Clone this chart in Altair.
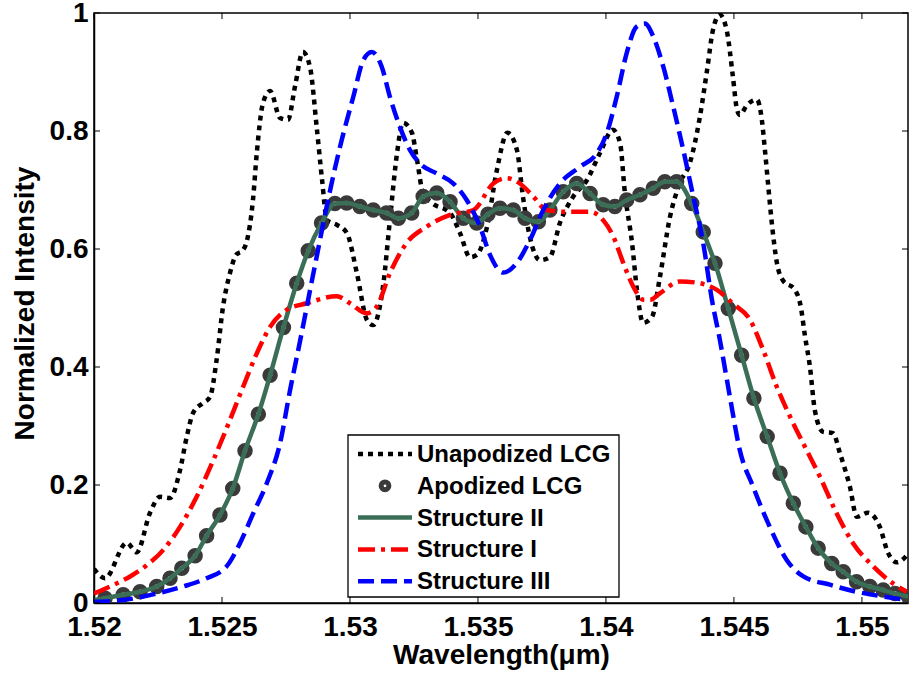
import altair as alt
import pandas as pd

# ---------------- data ----------------
unapod_wl = [
    1.52000, 1.52043, 1.52128, 1.52167, 1.52219, 1.52258, 1.52297, 1.52336, 1.52362, 1.52387,
    1.52426, 1.52453, 1.52479, 1.52504, 1.52531, 1.52555, 1.52582, 1.52598, 1.52621, 1.52636,
    1.52660, 1.52688, 1.52727, 1.52758, 1.52785, 1.52816, 1.52844, 1.52871, 1.52891, 1.52910,
    1.52949, 1.52988, 1.53027, 1.53066, 1.53090, 1.53129, 1.53156, 1.53184, 1.53207, 1.53242,
    1.53262, 1.53285, 1.53320, 1.53391, 1.53430, 1.53469, 1.53496, 1.53535, 1.53574, 1.53615,
    1.53652, 1.53676, 1.53703, 1.53742, 1.53781, 1.53820, 1.53871, 1.53926, 1.53977, 1.54027,
    1.54055, 1.54074, 1.54102, 1.54121, 1.54145, 1.54180, 1.54211, 1.54250, 1.54289, 1.54328,
    1.54367, 1.54395, 1.54418, 1.54445, 1.54473, 1.54496, 1.54512, 1.54523, 1.54551, 1.54590,
    1.54609, 1.54621, 1.54633, 1.54648, 1.54668, 1.54691, 1.54738, 1.54762, 1.54777, 1.54797,
    1.54816, 1.54848, 1.54887, 1.54914, 1.54953, 1.54980, 1.55023, 1.55070, 1.55102, 1.55137,
    1.55176]
unapod_int = [
    0.058, 0.042, 0.102, 0.086, 0.153, 0.180, 0.178, 0.225, 0.281, 0.322,
    0.339, 0.349, 0.412, 0.502, 0.559, 0.590, 0.598, 0.615, 0.683, 0.763,
    0.847, 0.868, 0.822, 0.819, 0.875, 0.934, 0.908, 0.802, 0.717, 0.649,
    0.641, 0.627, 0.559, 0.480, 0.471, 0.536, 0.649, 0.763, 0.814, 0.797,
    0.751, 0.695, 0.678, 0.661, 0.627, 0.586, 0.590, 0.637, 0.734, 0.797,
    0.768, 0.688, 0.620, 0.581, 0.586, 0.644, 0.688, 0.717, 0.763, 0.802,
    0.780, 0.695, 0.610, 0.531, 0.475, 0.485, 0.553, 0.654, 0.712, 0.746,
    0.824, 0.903, 0.971, 0.997, 0.968, 0.892, 0.836, 0.827, 0.844, 0.853,
    0.819, 0.768, 0.712, 0.644, 0.576, 0.547, 0.531, 0.500, 0.454, 0.400,
    0.327, 0.290, 0.288, 0.254, 0.197, 0.146, 0.153, 0.129, 0.085, 0.069,
    0.081]

apod_wl = [
    1.52043, 1.52114, 1.52180, 1.52245, 1.52297, 1.52343, 1.52395, 1.52440, 1.52492, 1.52542,
    1.52590, 1.52642, 1.52688, 1.52740, 1.52792, 1.52837, 1.52889, 1.52941, 1.52987, 1.53039,
    1.53091, 1.53143, 1.53189, 1.53241, 1.53286, 1.53339, 1.53391, 1.53443, 1.53495, 1.53539,
    1.53586, 1.53638, 1.53684, 1.53736, 1.53781, 1.53833, 1.53886, 1.53938, 1.53989, 1.54035,
    1.54081, 1.54133, 1.54185, 1.54230, 1.54276, 1.54335, 1.54380, 1.54426, 1.54478, 1.54530,
    1.54578, 1.54630, 1.54680, 1.54732, 1.54781, 1.54829, 1.54882, 1.54927, 1.54979, 1.55031,
    1.55083, 1.55129, 1.55181]
apod_int = [
    0.008, 0.014, 0.019, 0.028, 0.042, 0.059, 0.080, 0.114, 0.149, 0.194,
    0.258, 0.320, 0.386, 0.467, 0.542, 0.597, 0.644, 0.677, 0.678, 0.672,
    0.666, 0.661, 0.652, 0.661, 0.689, 0.695, 0.680, 0.652, 0.644, 0.659,
    0.669, 0.666, 0.652, 0.646, 0.666, 0.697, 0.711, 0.694, 0.675, 0.672,
    0.683, 0.692, 0.703, 0.714, 0.714, 0.677, 0.629, 0.576, 0.499, 0.420,
    0.347, 0.282, 0.220, 0.169, 0.129, 0.093, 0.067, 0.053, 0.036, 0.028,
    0.022, 0.016, 0.011]

struct2_wl = [1.52000] + apod_wl
struct2_int = [0.005] + apod_int

struct1_wl = [
    1.52000, 1.52063, 1.52141, 1.52206, 1.52271, 1.52336, 1.52401, 1.52466, 1.52531, 1.52583,
    1.52636, 1.52688, 1.52753, 1.52831, 1.52948, 1.53000, 1.53065, 1.53104, 1.53156, 1.53221,
    1.53300, 1.53391, 1.53482, 1.53560, 1.53612, 1.53664, 1.53716, 1.53768, 1.53846, 1.53938,
    1.53989, 1.54029, 1.54068, 1.54107, 1.54146, 1.54172, 1.54211, 1.54289, 1.54354, 1.54432,
    1.54497, 1.54563, 1.54614, 1.54667, 1.54719, 1.54784, 1.54836, 1.54901, 1.54966, 1.55044,
    1.55122, 1.55175]
struct1_int = [
    0.016, 0.028, 0.045, 0.064, 0.090, 0.129, 0.180, 0.242, 0.310, 0.367,
    0.423, 0.468, 0.497, 0.508, 0.520, 0.508, 0.491, 0.502, 0.559, 0.610,
    0.638, 0.658, 0.666, 0.711, 0.720, 0.711, 0.689, 0.666, 0.663, 0.663,
    0.649, 0.621, 0.576, 0.536, 0.514, 0.514, 0.525, 0.545, 0.543, 0.531,
    0.507, 0.480, 0.429, 0.367, 0.316, 0.259, 0.214, 0.152, 0.101, 0.062,
    0.033, 0.019]

struct3_wl = [
    1.52000, 1.52114, 1.52245, 1.52349, 1.52440, 1.52518, 1.52570, 1.52622, 1.52675, 1.52727,
    1.52766, 1.52805, 1.52848, 1.52875, 1.52909, 1.52961, 1.53013, 1.53052, 1.53085, 1.53124,
    1.53156, 1.53195, 1.53234, 1.53273, 1.53339, 1.53404, 1.53456, 1.53508, 1.53547, 1.53599,
    1.53651, 1.53703, 1.53755, 1.53820, 1.53898, 1.53964, 1.54003, 1.54042, 1.54081, 1.54120,
    1.54152, 1.54185, 1.54224, 1.54263, 1.54302, 1.54341, 1.54380, 1.54414, 1.54445, 1.54484,
    1.54523, 1.54575, 1.54640, 1.54706, 1.54771, 1.54875, 1.54979, 1.55083, 1.55175]
struct3_int = [
    0.002, 0.005, 0.016, 0.028, 0.042, 0.062, 0.101, 0.152, 0.203, 0.271,
    0.361, 0.444, 0.539, 0.598, 0.672, 0.773, 0.858, 0.920, 0.934, 0.909,
    0.858, 0.807, 0.768, 0.745, 0.728, 0.711, 0.683, 0.638, 0.590, 0.560,
    0.576, 0.615, 0.666, 0.711, 0.739, 0.762, 0.796, 0.858, 0.932, 0.977,
    0.982, 0.960, 0.909, 0.841, 0.768, 0.689, 0.610, 0.514, 0.446, 0.350,
    0.259, 0.197, 0.129, 0.073, 0.045, 0.031, 0.019, 0.011, 0.005]

x_ticks = [1.52, 1.525, 1.53, 1.535, 1.54, 1.545, 1.55]
y_ticks = [0, 0.2, 0.4, 0.6, 0.8, 1]
legend_labels = ["Unapodized LCG", "Apodized LCG", "Structure II", "Structure I", "Structure III"]

# ---------------- styling ----------------
W, H = 814, 590
FONT = "Liberation Sans"
BLACK, GREY, GREEN, RED, BLUE = "#000000", "#3a3a3a", "#3b6e56", "#ff0000", "#0000ff"
DOT, DASH, DASHDOT = [5, 5], [16, 7], [17, 6, 4, 6]
LW = 4.5
CSIZE, CSW = 100, 5.5

xscale = alt.Scale(domain=[1.52, 1.5518], nice=False, zero=False)
yscale = alt.Scale(domain=[0, 1], nice=False, zero=False)

xaxis = alt.Axis(values=x_ticks, format="~g", grid=False, ticks=False, tickSize=0,
                 labelFont=FONT, labelFontSize=28, labelFontWeight="bold", labelColor=BLACK,
                 labelPadding=32, labelBaseline="alphabetic", labelFlush=False, labelOverlap=False,
                 domainColor=BLACK, domainWidth=1.5,
                 title="Wavelength(\u03bcm)", titleFont=FONT, titleFontSize=28,
                 titleFontWeight="bold", titleColor=BLACK, titleX=W / 2, titleY=60,
                 titleBaseline="alphabetic", titleAlign="center")
yaxis = alt.Axis(values=y_ticks, format="~g", grid=False, ticks=False, tickSize=0,
                 labelFont=FONT, labelFontSize=28, labelFontWeight="bold", labelColor=BLACK,
                 labelPadding=6, labelBaseline="middle", labelFlush=False, labelOverlap=False,
                 domainColor=BLACK, domainWidth=1.5,
                 title="Normalized Intensity", titleFont=FONT, titleFontSize=28,
                 titleFontWeight="bold", titleColor=BLACK, titleX=-61, titleY=290,
                 titleAngle=270, titleBaseline="alphabetic", titleAlign="center")


def X():
    return alt.X("wl:Q", scale=xscale, axis=xaxis)


def Y():
    return alt.Y("val:Q", scale=yscale, axis=yaxis)


def df(wl, val):
    assert len(wl) == len(val)
    return pd.DataFrame({"wl": wl, "val": val})


def line(wl, val, color, dash=None):
    kw = dict(color=color, strokeWidth=LW, interpolate="monotone", clip=True)
    if dash:
        kw["strokeDash"] = dash
    return alt.Chart(df(wl, val)).mark_line(**kw).encode(x=X(), y=Y())


unapod = line(unapod_wl, unapod_int, BLACK, DOT)
circles = alt.Chart(df(apod_wl, apod_int)).mark_point(
    shape="circle", filled=False, size=CSIZE, strokeWidth=CSW, color=GREY, opacity=1, clip=True
).encode(x=X(), y=Y())
s2 = line(struct2_wl, struct2_int, GREEN)
s1 = line(struct1_wl, struct1_int, RED, DASHDOT)
s3 = line(struct3_wl, struct3_int, BLUE, DASH)

# inward ticks (MATLAB style) on all four sides
xt = pd.DataFrame({"wl": x_ticks})
yt = pd.DataFrame({"val": y_ticks})
tick_layers = [
    alt.Chart(xt).mark_rule(color=BLACK, strokeWidth=1).encode(x=X(), y=alt.value(H), y2=alt.value(H - 6)),
    alt.Chart(xt).mark_rule(color=BLACK, strokeWidth=1).encode(x=X(), y=alt.value(0), y2=alt.value(6)),
    alt.Chart(yt).mark_rule(color=BLACK, strokeWidth=1).encode(y=Y(), x=alt.value(0), x2=alt.value(6)),
    alt.Chart(yt).mark_rule(color=BLACK, strokeWidth=1).encode(y=Y(), x=alt.value(W), x2=alt.value(W - 6)),
]

# ---------------- legend (drawn manually) ----------------
LX0, LX1, LY0, LY1 = 254, 525, 422, 584
ROW0, ROWSTEP = 441, 31.8
SYM0, SYM1, TXT = 264, 318, 323
one = pd.DataFrame({"k": [0]})
legend_layers = [
    alt.Chart(one).mark_rect(fill="white", stroke=BLACK, strokeWidth=1.3).encode(
        x=alt.value(LX0), x2=alt.value(LX1), y=alt.value(LY0), y2=alt.value(LY1))
]
styles = [(BLACK, DOT), (GREY, None), (GREEN, None), (RED, DASHDOT), (BLUE, DASH)]
for i, (lab, (col, dash)) in enumerate(zip(legend_labels, styles)):
    yy = ROW0 + i * ROWSTEP
    if lab == "Apodized LCG":
        legend_layers.append(
            alt.Chart(one).mark_point(shape="circle", filled=False, size=60, strokeWidth=5,
                                      color=GREY, opacity=1).encode(
                x=alt.value((SYM0 + SYM1) / 2), y=alt.value(yy)))
    else:
        kw = dict(color=col, strokeWidth=LW)
        if dash:
            kw["strokeDash"] = dash
        legend_layers.append(
            alt.Chart(one).mark_rule(**kw).encode(
                x=alt.value(SYM0), x2=alt.value(SYM1), y=alt.value(yy)))
    legend_layers.append(
        alt.Chart(pd.DataFrame({"label": [lab]})).mark_text(
            align="left", baseline="middle", font=FONT, fontSize=24, fontWeight="bold",
            color=BLACK, dy=1).encode(
            x=alt.value(TXT), y=alt.value(yy), text="label:N"))

chart = alt.layer(
    unapod, circles, s2, s1, s3, *tick_layers, *legend_layers
).properties(
    width=W, height=H,
    padding={"left": 94, "top": 13, "right": 6, "bottom": 75},
    autosize=alt.AutoSizeParams(type="none"),
    background="white",
).configure_view(stroke=BLACK, strokeWidth=1.5)

chart.save("out.html", embed_options={"renderer": "svg", "actions": False})
